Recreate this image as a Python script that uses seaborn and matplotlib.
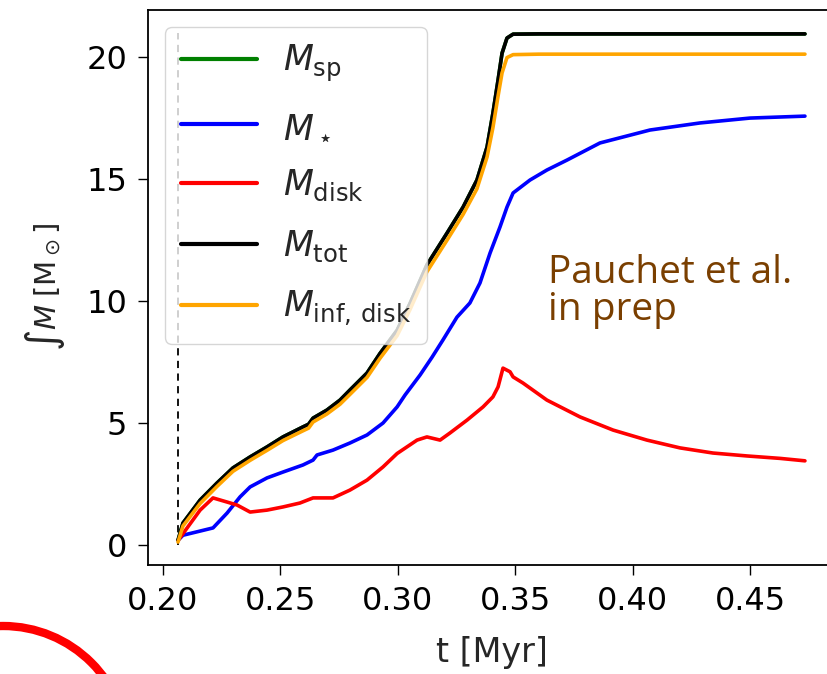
import matplotlib
matplotlib.use("Agg")
import matplotlib.pyplot as plt
from matplotlib.patches import Circle
import seaborn as sns

# Time axis and cumulative masses (Msun)
t_tot = [0.2064, 0.2085, 0.2158, 0.2230, 0.2298, 0.2371, 0.2443, 0.2511, 0.2596,
         0.2620, 0.2639, 0.2698, 0.2754, 0.2796, 0.2869, 0.2924, 0.2997, 0.3052,
         0.3124, 0.3210, 0.3278, 0.3337, 0.3380, 0.3405, 0.3427, 0.3444, 0.3465,
         0.3491, 0.3600, 0.4734]
m_tot = [0.20, 0.90, 1.84, 2.54, 3.16, 3.61, 4.02, 4.43, 4.84,
         4.95, 5.20, 5.53, 5.94, 6.35, 7.05, 7.85, 8.80, 9.90,
         11.48, 12.79, 13.85, 14.96, 16.31, 17.70, 19.06, 20.16, 20.78,
         20.94, 20.95, 20.95]
m_sp = [0.20, 0.90, 1.84, 2.54, 3.16, 3.61, 4.02, 4.43, 4.84,
        4.95, 5.20, 5.53, 5.94, 6.35, 7.05, 7.85, 8.80, 9.90,
        11.48, 12.79, 13.85, 14.96, 16.31, 17.70, 19.06, 20.16, 20.78,
        20.94, 20.95, 20.95]
m_inf = [0.12, 0.78, 1.70, 2.40, 3.02, 3.47, 3.88, 4.28, 4.68,
         4.79, 5.04, 5.37, 5.77, 6.17, 6.87, 7.65, 8.58, 9.65,
         11.20, 12.50, 13.55, 14.60, 15.90, 17.10, 18.40, 19.35, 19.98,
         20.10, 20.12, 20.12]

t_star = [0.2065, 0.2085, 0.2213, 0.2273, 0.2328, 0.2371, 0.2443, 0.2511, 0.2596,
          0.2639, 0.2656, 0.2724, 0.2796, 0.2869, 0.2937, 0.2997, 0.3031, 0.3095,
          0.3146, 0.3192, 0.3252, 0.3307, 0.3350, 0.3393, 0.3435, 0.3465, 0.3491,
          0.3563, 0.3635, 0.3721, 0.3861, 0.4074, 0.4287, 0.4500, 0.4734]
m_star = [0.20, 0.40, 0.70, 1.31, 1.97, 2.38, 2.75, 2.99, 3.28,
          3.48, 3.69, 3.89, 4.18, 4.51, 5.00, 5.66, 6.15, 6.97,
          7.70, 8.40, 9.34, 9.92, 10.74, 11.97, 13.03, 13.85, 14.43,
          14.96, 15.37, 15.78, 16.48, 17.01, 17.30, 17.50, 17.58]

t_disk = [0.2065, 0.2158, 0.2213, 0.2273, 0.2315, 0.2371, 0.2443, 0.2511, 0.2583,
          0.2639, 0.2724, 0.2796, 0.2869, 0.2937, 0.2997, 0.3082, 0.3124, 0.3180,
          0.3222, 0.3295, 0.3363, 0.3405, 0.3427, 0.3448, 0.3478, 0.3491, 0.3533,
          0.3635, 0.3776, 0.3917, 0.4061, 0.4202, 0.4342, 0.4487, 0.4628, 0.4734]
m_disk = [0.20, 1.43, 1.93, 1.76, 1.64, 1.35, 1.43, 1.56, 1.72,
          1.93, 1.93, 2.25, 2.66, 3.20, 3.75, 4.30, 4.43, 4.30,
          4.59, 5.12, 5.66, 6.07, 6.48, 7.25, 7.10, 6.89, 6.64,
          5.94, 5.25, 4.71, 4.30, 3.98, 3.77, 3.65, 3.55, 3.45]

t_form = 0.2065  # sink formation time

x_ticks = [0.20, 0.25, 0.30, 0.35, 0.40, 0.45]
x_ticklabels = ["0.20", "0.25", "0.30", "0.35", "0.40", "0.45"]
y_ticks = [0, 5, 10, 15, 20]

sns.set_style("ticks")
plt.rcParams["font.family"] = ["DejaVu Sans"]
plt.rcParams["mathtext.fontset"] = "dejavusans"

W, H = 827, 674
fig = plt.figure(figsize=(W / 100, H / 100), dpi=100)
ax = fig.add_axes([148 / W, 1 - 565 / H, (835 - 148) / W, (565 - 10) / H])

lw = 2.6
series = [
    (t_tot, m_sp, "green", r"$M_{\rm sp}$"),
    (t_star, m_star, "blue", r"$M_\star$"),
    (t_disk, m_disk, "red", r"$M_{\rm disk}$"),
    (t_tot, m_tot, "black", r"$M_{\rm tot}$"),
    (t_tot, m_inf, "orange", r"$M_{\rm inf,\,disk}$"),
]
for tt, mm, col, lab in series:
    sns.lineplot(x=tt, y=mm, ax=ax, color=col, lw=lw, label=lab,
                 estimator=None, sort=False)

ax.vlines(t_form, 0, 21.0, colors="black", linestyles=(0, (4, 3)), lw=1.3, zorder=1)

ax.set_xlim(0.19361, 0.4862)
ax.set_ylim(-0.82, 21.93)
ax.set_xticks(x_ticks)
ax.set_xticklabels(x_ticklabels)
ax.set_yticks(y_ticks)
ax.tick_params(labelsize=23, length=7, width=1.0, pad=8, colors="black")
for s in ax.spines.values():
    s.set_linewidth(1.3)
    s.set_color("black")

ax.set_xlabel("t [Myr]", fontsize=24, labelpad=14)
ax.set_ylabel(r"$\int M\;[\mathrm{M}_\odot]$", fontsize=21, labelpad=14)

leg = ax.legend(loc="upper left", fontsize=25, handlelength=2.2, handletextpad=0.75,
                labelspacing=0.72, borderaxespad=0.5, borderpad=0.45,
                frameon=True, framealpha=0.8, fancybox=True)
leg.get_frame().set_edgecolor("#cccccc")
for h in leg.get_lines():
    h.set_linewidth(3.0)

brown = "#7a3f00"
fig.text(548 / W, 1 - 283 / H, "Pauchet et al.", fontsize=28, color=brown,
         family=["Open Sans", "DejaVu Sans"], va="baseline", ha="left")
fig.text(548 / W, 1 - 320 / H, "in prep", fontsize=28, color=brown,
         family=["Open Sans", "DejaVu Sans"], va="baseline", ha="left")

# red ring in the lower-left corner
ring = Circle((0.03, -0.77), 1.25, transform=fig.dpi_scale_trans, fill=False,
              edgecolor="#ff0000", lw=6, clip_on=False)
fig.patches.append(ring)

fig.savefig("out.png", dpi=100)
